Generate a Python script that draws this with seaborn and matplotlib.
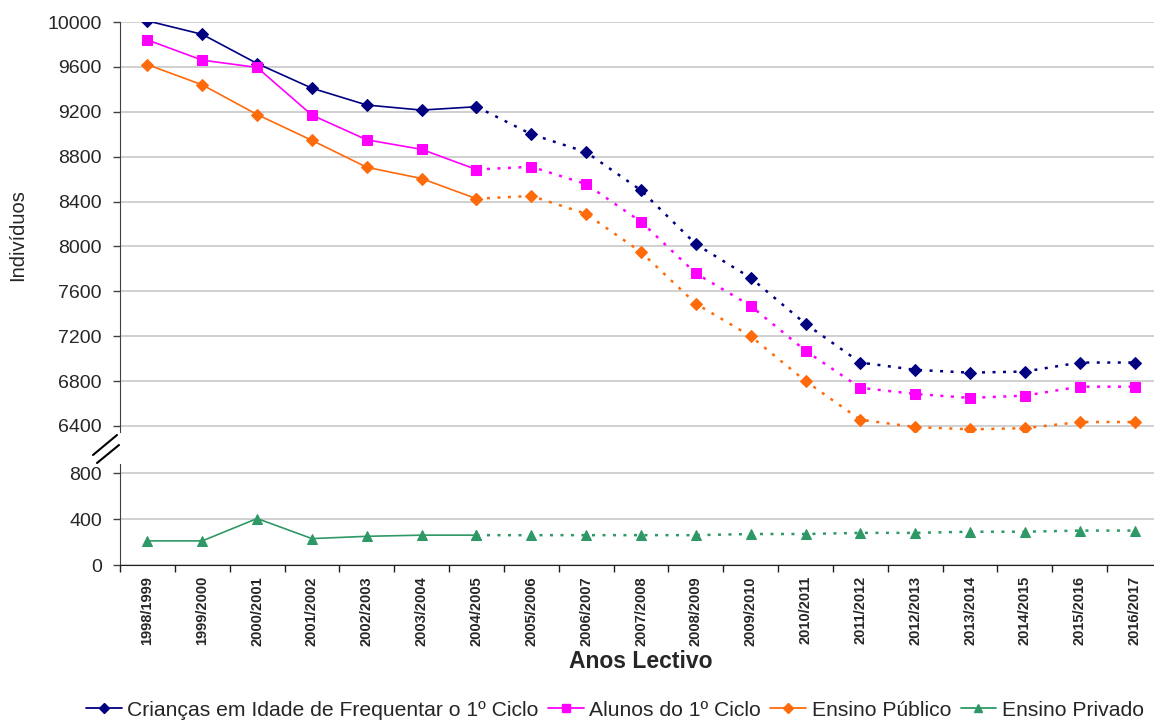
import matplotlib
matplotlib.use("Agg")
import matplotlib.pyplot as plt
from matplotlib.lines import Line2D
import numpy as np
import pandas as pd
import seaborn as sns

# school years (x categories)
YEARS = [
    "1998/1999", "1999/2000", "2000/2001", "2001/2002", "2002/2003",
    "2003/2004", "2004/2005", "2005/2006", "2006/2007", "2007/2008",
    "2008/2009", "2009/2010", "2010/2011", "2011/2012", "2012/2013",
    "2013/2014", "2014/2015", "2015/2016", "2016/2017",
]
# last observed year; values after it are projections (dotted)
LAST_OBSERVED = "2004/2005"

CRIANCAS = [10010, 9890, 9630, 9410, 9260, 9215, 9245, 9000, 8840, 8500,
            8020, 7720, 7310, 6965, 6900, 6875, 6885, 6965, 6965]
ALUNOS = [9840, 9660, 9595, 9170, 8950, 8865, 8685, 8710, 8555, 8220,
          7760, 7470, 7070, 6740, 6685, 6650, 6670, 6750, 6750]
PUBLICO = [9620, 9440, 9175, 8945, 8705, 8605, 8425, 8450, 8290, 7950,
           7490, 7200, 6800, 6455, 6390, 6370, 6380, 6435, 6435]
PRIVADO = [210, 210, 405, 230, 250, 260, 260, 260, 260, 260,
           260, 270, 270, 280, 280, 290, 290, 300, 300]

UPPER_TICKS = list(range(6400, 10001, 400))
LOWER_TICKS = [0, 400, 800]

SERIES = [
    # (label, values, color, marker, size, axis)
    ("Crianças em Idade de Frequentar o 1º Ciclo", CRIANCAS, "#000080", "D", 6, "upper"),
    ("Alunos do 1º Ciclo", ALUNOS, "#FF00FF", "s", 7, "upper"),
    ("Ensino Público", PUBLICO, "#FF6A0A", "D", 6, "upper"),
    ("Ensino Privado", PRIVADO, "#2E9966", "^", 7, "lower"),
]

sns.set_style("white")
plt.rcParams["font.family"] = ["Liberation Sans", "DejaVu Sans"]

fig = plt.figure(figsize=(11.54, 7.22), dpi=100)
W, H = 1154, 722
left, right = 120 / W, 1162 / W
ax_up = fig.add_axes([left, 1 - 432 / H, right - left, (432 - 22) / H])
ax_lo = fig.add_axes([left, 1 - 565 / H, right - left, (565 - 464) / H])

split = YEARS.index(LAST_OBSERVED)
pos = np.arange(len(YEARS))

handles = []
for label, vals, color, marker, ms, where in SERIES:
    ax = ax_up if where == "upper" else ax_lo
    df = pd.DataFrame({"pos": pos, "value": vals})
    solid = df.iloc[: split + 1]
    dotted = df.iloc[split:]
    sns.lineplot(data=solid, x="pos", y="value", ax=ax, color=color,
                 marker=marker, markersize=ms, markeredgecolor=color,
                 linewidth=1.2, legend=False)
    sns.lineplot(data=dotted, x="pos", y="value", ax=ax, color=color,
                 marker=marker, markersize=ms, markeredgecolor=color,
                 linewidth=1.8, linestyle=(0, (1.2, 3)), legend=False)
    handles.append(Line2D([], [], color=color, marker=marker, markersize=ms - 1,
                          linewidth=1.3, label=label))

for ax in (ax_up, ax_lo):
    ax.set_xlim(-0.5, len(YEARS) - 0.5)
    ax.grid(axis="y", color="#c8c8c8", linewidth=1.2)
    ax.set_axisbelow(True)
    for side in ("top", "right"):
        ax.spines[side].set_visible(False)
    ax.spines["left"].set_color("#404040")
    ax.set_xlabel("")
    ax.set_ylabel("")
    ax.tick_params(axis="y", labelsize=14, length=5, width=1, color="#404040",
                   pad=8, left=True)

ax_up.set_ylim(6346, 10000)
ax_up.set_yticks(UPPER_TICKS)
ax_up.spines["bottom"].set_visible(False)
ax_up.set_xticks([])

ax_lo.set_ylim(0, 880)
ax_lo.set_yticks(LOWER_TICKS)
ax_lo.spines["bottom"].set_color("#202020")
ax_lo.set_xticks(pos)
ax_lo.set_xticklabels(YEARS, rotation=90, fontweight="bold", fontsize=10.5)
ax_lo.set_xticks(np.arange(-0.5, len(YEARS), 1.0), minor=True)
ax_lo.tick_params(axis="x", which="major", length=0, pad=8)
ax_lo.tick_params(axis="x", which="minor", length=5, width=1, color="#202020",
                  bottom=True)

# axis break marks
for (x0, y0, x1, y1) in [(93, 455, 117, 435), (97, 463, 119, 445)]:
    fig.add_artist(Line2D([x0 / W, x1 / W], [1 - y0 / H, 1 - y1 / H],
                          transform=fig.transFigure, color="black", linewidth=1.5))

fig.text(18 / W, 1 - 235 / H, "Indivíduos", rotation=90, ha="center",
         va="center", fontsize=14.5)
fig.text(641 / W, 1 - 662 / H, "Anos Lectivo", ha="center", va="center",
         fontsize=16.5, fontweight="bold")

fig.legend(handles=handles, loc="center left", bbox_to_anchor=(86 / W, 1 - 710 / H),
           ncol=4, frameon=False, fontsize=15.2, handlelength=1.7,
           handletextpad=0.25, columnspacing=0.45, borderaxespad=0, borderpad=0)

fig.savefig("out.png", dpi=100)
